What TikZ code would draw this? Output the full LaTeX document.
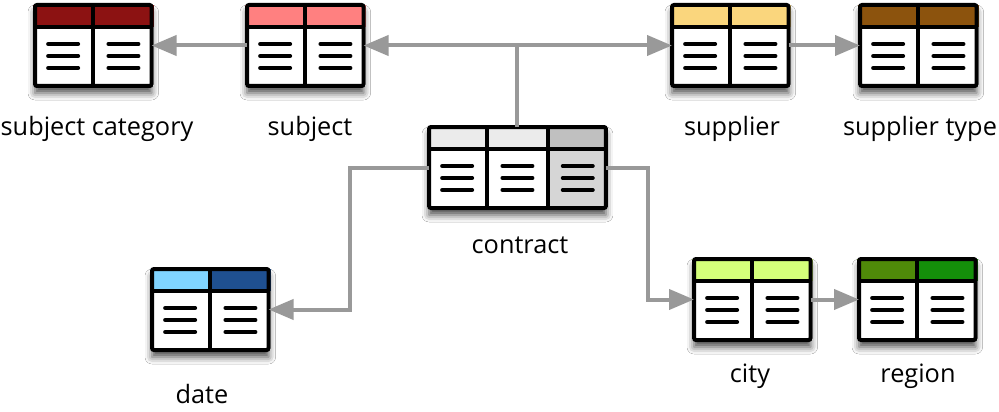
\documentclass[tikz,border=0pt]{standalone}
\usepackage{fontspec}
\setmainfont{Open Sans}
\usetikzlibrary{arrows.meta,shadows.blur}
\definecolor{cSubcat}{HTML}{8C1212}
\definecolor{cSubject}{HTML}{FF8080}
\definecolor{cSupplier}{HTML}{FAD67D}
\definecolor{cSuptype}{HTML}{8C530D}
\definecolor{cConA}{HTML}{EBEBEB}
\definecolor{cConB}{HTML}{C0C0C0}
\definecolor{cConBody}{HTML}{D6D6D6}
\definecolor{cDateA}{HTML}{80D4FF}
\definecolor{cDateB}{HTML}{1F5090}
\definecolor{cCity}{HTML}{D4FF7A}
\definecolor{cRegA}{HTML}{4F8A09}
\definecolor{cRegB}{HTML}{148F0A}
\definecolor{cConn}{HTML}{999999}
\tikzset{
  tframe/.style={draw=black, line width=4pt, rounded corners=2pt, inner sep=0pt, outer sep=0pt},
  tborder/.style={draw=black, line width=4pt},
  tline/.style={draw=black, line width=4pt, line cap=round},
  tabshadow/.style={blur shadow={shadow xshift=0pt, shadow yshift=-7pt, shadow blur radius=7pt, shadow opacity=70}},
  lbl/.style={font=\fontsize{25.3}{30}\selectfont, inner sep=0pt},
  conn/.style={draw=cConn, line width=4pt, -{Triangle[length=25pt,width=20pt]}},
}
% #1 name, #2 X, #3 Y, #4 ncols, #5 header colours, #6 body colours, #7 label x, #8 label baseline y, #9 label
\newcommand\dbtab[9]{%
  \pgfmathsetmacro\tw{#4*60.3}%
  \pgfmathsetmacro\cw{60.3}%
  \begin{scope}[shift={(#2,#3)}]
    \fill[white, tabshadow] (2,2) rectangle (\tw-2,83);
    \foreach \hc [count=\i] in {#5} { \fill[\hc] ({(\i-1)*\cw},2) rectangle ({\i*\cw},24); }
    \foreach \bc [count=\i] in {#6} {
      \fill[\bc] ({(\i-1)*\cw},24) rectangle ({\i*\cw},83);
      \foreach \dy in {-12,0,12} { \draw[tline] ({(\i-0.5)*\cw-15},{53+\dy}) -- ++(30,0); }
    }
    \pgfmathtruncatemacro\nd{#4-1}%
    \foreach \j in {1,...,\nd} { \draw[tborder] ({\j*\cw},2) -- ({\j*\cw},83); }
    \draw[tborder] (2,24) -- (\tw-2,24);
    \node[tframe, minimum width=\tw pt-4pt, minimum height=81pt, anchor=north west] (#1) at (2,2) {};
  \end{scope}
  \node[lbl, anchor=base] (#1-label) at (#7,#8) {#9};
}
\begin{document}
\begin{tikzpicture}[x=1pt,y=-1pt]
\useasboundingbox[fill=white] (0,0) rectangle (999,412);
\dbtab{subcat}{33}{3}{2}{cSubcat,cSubcat}{white,white}{97}{135}{subject category}
\dbtab{subject}{245}{3}{2}{cSubject,cSubject}{white,white}{310}{135}{subject}
\dbtab{supplier}{670}{3}{2}{cSupplier,cSupplier}{white,white}{732}{135}{supplier}
\dbtab{suptype}{858}{3}{2}{cSuptype,cSuptype}{white,white}{920}{135}{supplier type}
\dbtab{contract}{427}{125}{3}{cConA,cConA,cConB}{white,white,cConBody}{520}{253}{contract}
\dbtab{date}{150}{267}{2}{cDateA,cDateB}{white,white}{202}{403}{date}
\dbtab{city}{692}{257}{2}{cCity,cCity}{white,white}{750}{382}{city}
\dbtab{region}{857}{257}{2}{cRegA,cRegB}{white,white}{918}{382}{region}
\draw[conn] (contract.north) |- (subject.east);
\draw[conn] (contract.north) |- (supplier.west);
\draw[conn] (subject.west) -- (subcat.east);
\draw[conn] (supplier.east) -- (suptype.west);
\draw[conn] (contract.west) -- ++(-79,0) |- (date.east);
\draw[conn] (contract.east) -- ++(42,0) |- (city.west);
\draw[conn] (city.east) -- (region.west);
\end{tikzpicture}
\end{document}
